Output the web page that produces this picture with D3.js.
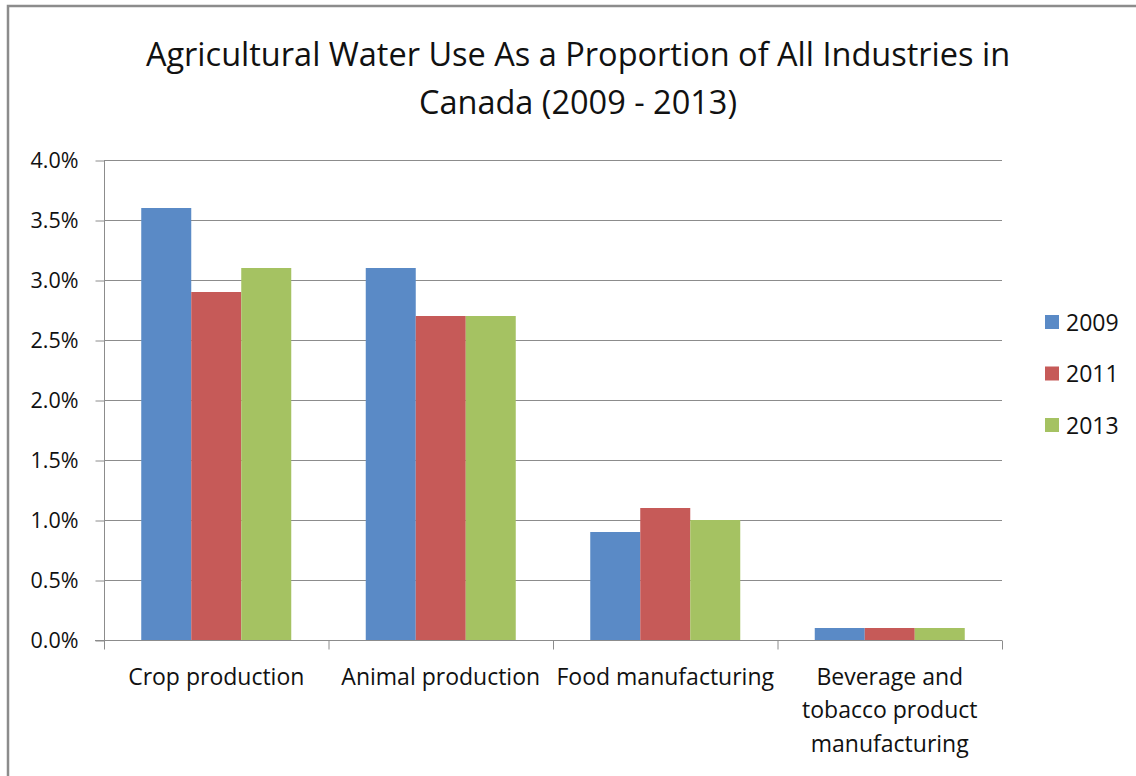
<!DOCTYPE html>
<html>
<head>
<meta charset="utf-8">
<script src="https://cdn.jsdelivr.net/npm/d3@7"></script>
<style>
  body { margin: 0; background: #fff; }
  text { font-family: "Open Sans", "Noto Sans", sans-serif; fill: #111; }
</style>
</head>
<body>
<div id="chart"></div>
<script>
var categories = ["Crop production", "Animal production", "Food manufacturing", "Beverage and tobacco product manufacturing"];
var categoryLines = [["Crop production"], ["Animal production"], ["Food manufacturing"], ["Beverage and", "tobacco product", "manufacturing"]];
var years = ["2009", "2011", "2013"];
var values2009 = [3.6, 3.1, 0.9, 0.1];
var values2011 = [2.9, 2.7, 1.1, 0.1];
var values2013 = [3.1, 2.7, 1.0, 0.1];
var yTicks = [0, 0.5, 1.0, 1.5, 2.0, 2.5, 3.0, 3.5, 4.0];
var colors = ["#5a8ac6", "#c65a58", "#a5c262"];

var width = 1136, height = 776;
var series = [values2009, values2011, values2013];

var svg = d3.select("#chart").append("svg")
            .attr("width", width)
            .attr("height", height);

// outer frame of the chart
svg.append("rect")
   .attr("x", 8).attr("y", 6)
   .attr("width", width).attr("height", height)
   .attr("fill", "#fff")
   .attr("stroke", "#8c8c8c")
   .attr("stroke-width", 2.5);

var x = d3.scaleBand().domain(categories).range([104, 1002]);
var y = d3.scaleLinear().domain([0, 4]).range([640, 160]);
var inner = d3.scaleBand().domain(years).range([0, 150]);

// title
var title = svg.append("text")
               .attr("text-anchor", "middle")
               .style("font-size", "32.5px");
title.append("tspan").attr("x", 578).attr("y", 66).text("Agricultural Water Use As a Proportion of All Industries in");
title.append("tspan").attr("x", 578).attr("y", 114).text("Canada (2009 - 2013)");

// gridlines
svg.append("g").selectAll("line")
   .data(yTicks.filter(function(d) { return d > 0; }))
   .enter().append("line")
   .attr("x1", 104).attr("x2", 1002)
   .attr("y1", function(d) { return y(d) + 0.5; })
   .attr("y2", function(d) { return y(d) + 0.5; })
   .attr("stroke", "#8c8c8c")
   .attr("stroke-width", 1);

// y axis
var yAxis = d3.axisLeft(y)
              .tickValues(yTicks)
              .tickSize(9)
              .tickPadding(17)
              .tickFormat(function(d) { return d.toFixed(1) + "%"; });
var gy = svg.append("g").attr("transform", "translate(104.5,0.5)").call(yAxis);
gy.selectAll("line, path").attr("stroke", "#8c8c8c");
gy.select(".domain").attr("d", "M0,160V640");
gy.selectAll("text").style("font-size", "21.5px").attr("fill", "#111");

// bars
var groups = svg.append("g").selectAll("g")
                .data(categories)
                .enter().append("g")
                .attr("transform", function(d) { return "translate(" + (x(d) + (x.bandwidth() - 150) / 2) + ",0)"; });

groups.selectAll("rect")
      .data(function(d, i) { return years.map(function(yr, j) { return {year: yr, value: series[j][i], k: j}; }); })
      .enter().append("rect")
      .attr("x", function(d) { return inner(d.year); })
      .attr("width", inner.bandwidth())
      .attr("y", function(d) { return y(d.value); })
      .attr("height", function(d) { return y(0) - y(d.value); })
      .attr("fill", function(d) { return colors[d.k]; });

// x axis
var gx = svg.append("g").attr("transform", "translate(0,640.5)");
gx.append("line").attr("x1", 95).attr("x2", 1002).attr("stroke", "#8c8c8c");
gx.selectAll("line.tick")
  .data(categories.concat(["end"]))
  .enter().append("line")
  .attr("class", "tick")
  .attr("x1", function(d, i) { return 104.5 + i * x.bandwidth(); })
  .attr("x2", function(d, i) { return 104.5 + i * x.bandwidth(); })
  .attr("y1", 0).attr("y2", 9)
  .attr("stroke", "#8c8c8c");

var labels = gx.selectAll("text.cat")
  .data(categories)
  .enter().append("text")
  .attr("class", "cat")
  .attr("text-anchor", "middle")
  .style("font-size", "23px");
labels.each(function(d, i) {
  var t = d3.select(this);
  categoryLines[i].forEach(function(line, k) {
    t.append("tspan")
     .attr("x", x(d) + x.bandwidth() / 2)
     .attr("y", 44 + k * 33.5)
     .text(line);
  });
});

// legend
var legend = svg.append("g").selectAll("g")
                .data(years)
                .enter().append("g")
                .attr("transform", function(d, i) { return "translate(1045," + (315 + i * 51.5) + ")"; });
legend.append("rect")
      .attr("width", 14).attr("height", 14)
      .attr("fill", function(d, i) { return colors[i]; });
legend.append("text")
      .attr("x", 21).attr("y", 15.5)
      .style("font-size", "23px")
      .text(function(d) { return d; });
</script>
</body>
</html>
